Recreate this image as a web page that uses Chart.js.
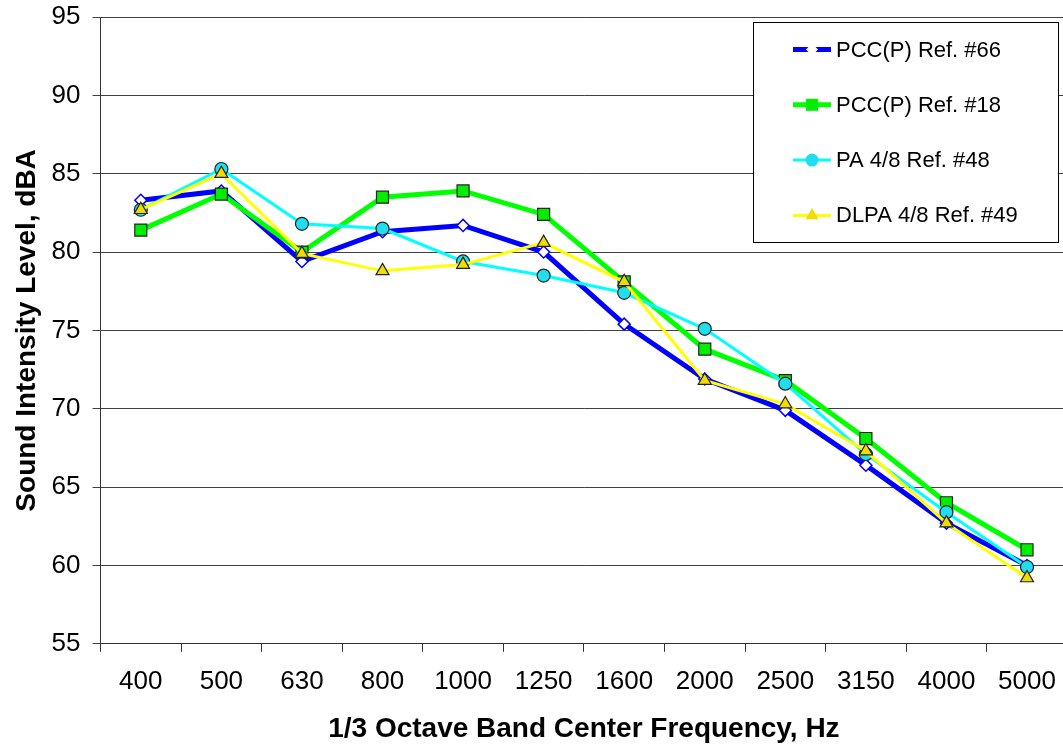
<!DOCTYPE html>
<html lang="en">
<head>
  <meta charset="UTF-8">
  <title>Sound Intensity Level by 1/3 Octave Band</title>
  <script src="https://cdn.jsdelivr.net/npm/chart.js@4.4.1/dist/chart.umd.min.js"></script>
  <style>
    html, body { margin: 0; padding: 0; background: #fff; overflow: hidden; }
    #wrap { width: 1077px; height: 744px; }
  </style>
</head>
<body>
  <div id="wrap"><canvas id="sil"></canvas></div>

  <script>
    // data
    const frequencies = ['400', '500', '630', '800', '1000', '1250', '1600', '2000', '2500', '3150', '4000', '5000'];
    const pcc66  = [83.3, 83.9, 79.4, 81.3, 81.7, 80.0, 75.4, 71.9, 69.9, 66.4, 62.7, 60.0];
    const pcc18  = [81.4, 83.7, 80.0, 83.5, 83.9, 82.4, 78.1, 73.8, 71.8, 68.1, 64.0, 61.0];
    const pa48   = [82.7, 85.3, 81.8, 81.5, 79.4, 78.5, 77.4, 75.1, 71.6, 67.1, 63.4, 59.9];
    const dlpa49 = [82.7, 85.0, 79.9, 78.8, 79.2, 80.6, 78.1, 71.8, 70.3, 67.3, 62.7, 59.2];
    const seriesNames = ['PCC(P) Ref. #66', 'PCC(P) Ref. #18', 'PA 4/8 Ref. #48', 'DLPA 4/8 Ref. #49'];

    const FONT = "'Liberation Sans', Arial, sans-serif";

    // legend drawn as a framed box inside the plot, like the original
    const boxLegend = {
      id: 'boxLegend',
      afterDraw(chart) {
        const ctx = chart.ctx;
        const x0 = 753, y0 = 22, w = 305, h = 220;
        ctx.save();
        ctx.fillStyle = '#fff';
        ctx.fillRect(x0, y0, w, h);
        ctx.strokeStyle = '#000';
        ctx.lineWidth = 1;
        ctx.strokeRect(x0 + 0.5, y0 + 0.5, w, h);
        chart.data.datasets.forEach((ds, i) => {
          const cy = 49.5 + i * 55.3;
          ctx.strokeStyle = ds.borderColor;
          ctx.lineWidth = ds.borderWidth;
          ctx.beginPath();
          ctx.moveTo(793, cy);
          ctx.lineTo(831, cy);
          ctx.stroke();
          ctx.fillStyle = ds.pointBackgroundColor;
          ctx.strokeStyle = ds.pointBorderColor;
          ctx.lineWidth = ds.pointBorderWidth;
          Chart.helpers.drawPoint(ctx, { pointStyle: ds.pointStyle, radius: ds.pointRadius, rotation: 0 }, 812, cy);
          ctx.fillStyle = '#000';
          ctx.font = '22px ' + FONT;
          ctx.textBaseline = 'middle';
          ctx.fillText(ds.label, 836, cy + 1);
        });
        ctx.restore();
      }
    };

    new Chart(document.getElementById('sil'), {
      type: 'line',
      data: {
        labels: frequencies,
        datasets: [
          { label: seriesNames[0], data: pcc66, order: 4, borderColor: '#0000FF', borderWidth: 5,
            pointStyle: 'rectRot', pointRadius: 6, pointBackgroundColor: '#FFFFFF',
            pointBorderColor: '#0000FF', pointBorderWidth: 1.5 },
          { label: seriesNames[1], data: pcc18, order: 3, borderColor: '#00FF00', borderWidth: 5,
            pointStyle: 'rect', pointRadius: 8.5, pointBackgroundColor: '#00EE00',
            pointBorderColor: '#222', pointBorderWidth: 1.2 },
          { label: seriesNames[2], data: pa48, order: 2, borderColor: '#00FFFF', borderWidth: 3,
            pointStyle: 'circle', pointRadius: 6.5, pointBackgroundColor: '#22DDEE',
            pointBorderColor: '#222', pointBorderWidth: 1.2 },
          { label: seriesNames[3], data: dlpa49, order: 1, borderColor: '#FFFF00', borderWidth: 3,
            pointStyle: 'triangle', pointRadius: 7.5, pointBackgroundColor: '#F0DC00',
            pointBorderColor: '#222', pointBorderWidth: 1.2 }
        ]
      },
      options: {
        responsive: true,
        maintainAspectRatio: false,
        animation: false,
        layout: { padding: { top: 17, left: 0, right: 0, bottom: 0 } },
        elements: { line: { tension: 0 } },
        plugins: {
          legend: { display: false },
          tooltip: { enabled: false }
        },
        scales: {
          x: {
            offset: true,
            grid: { offset: true, drawOnChartArea: false, drawTicks: true, tickLength: 8, color: '#333' },
            border: { color: '#333', width: 1 },
            ticks: { color: '#000', padding: 14.4, maxRotation: 0, font: { family: FONT, size: 26 } },
            title: {
              display: true, text: '1/3 Octave Band Center Frequency, Hz', color: '#000',
              padding: { top: 1, bottom: -2.4 },
              font: { family: FONT, size: 28, weight: 'bold' }
            }
          },
          y: {
            min: 55, max: 95,
            afterFit(scale) { scale.paddingTop = 0; scale.paddingBottom = 0; },
            grid: { color: '#404040', lineWidth: 1, tickLength: 8 },
            border: { color: '#333', width: 1 },
            ticks: { stepSize: 5, color: '#000', padding: 12, font: { family: FONT, size: 26 } },
            title: {
              display: true, text: 'Sound Intensity Level, dBA', color: '#000',
              padding: { top: 10, bottom: -4 },
              font: { family: FONT, size: 28, weight: 'bold' }
            }
          }
        }
      },
      plugins: [boxLegend]
    });
  </script>
</body>
</html>
